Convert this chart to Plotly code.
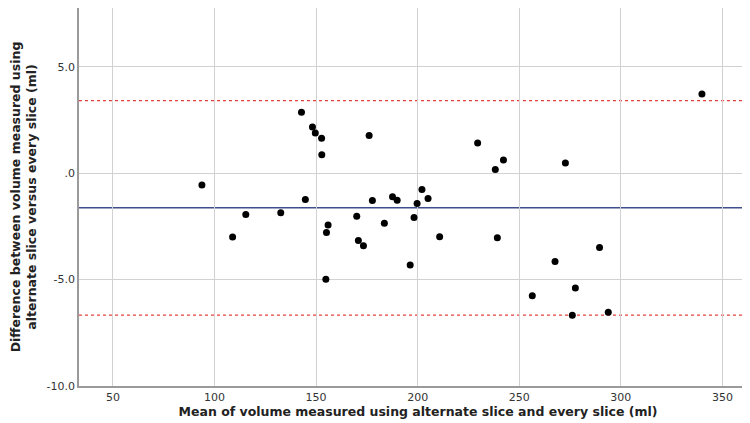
import plotly.graph_objects as go

# Mean of the two volume measurements (ml)
mean_volume = [93.8, 108.9, 115.4, 132.6, 142.8, 144.7, 148.2, 149.6, 152.7, 152.8,
               155.9, 155.1, 154.8, 176.1, 177.7, 170.0, 170.8, 173.3, 183.6, 187.6,
               189.9, 196.3, 198.2, 199.7, 202.1, 205.1, 210.8, 229.5, 238.2, 242.2,
               239.2, 272.7, 267.6, 256.4, 277.6, 289.5, 276.1, 293.8, 339.9]
# Difference between alternate-slice and every-slice volume (ml)
difference = [-0.56, -3.00, -1.94, -1.86, 2.86, -1.24, 2.17, 1.89, 1.64, 0.86,
              -2.44, -2.79, -4.99, 1.77, -1.28, -2.02, -3.16, -3.41, -2.35, -1.11,
              -1.27, -4.31, -2.08, -1.43, -0.77, -1.19, -2.99, 1.42, 0.17, 0.62,
              -3.04, 0.48, -4.15, -5.76, -5.39, -3.49, -6.67, -6.53, 3.72]

mean_difference = -1.63
limits_of_agreement = [3.41, -6.67]

x_ticks = [50, 100, 150, 200, 250, 300, 350]
y_ticks = [5.0, 0.0, -5.0, -10.0]
y_tick_labels = ["5.0", ".0", "-5.0", "-10.0"]

fig = go.Figure()
fig.add_trace(go.Scatter(
    x=mean_volume, y=difference, mode="markers",
    marker=dict(color="black", size=7),
    showlegend=False, hoverinfo="x+y"))

fig.add_hline(y=mean_difference, line=dict(color="#3d4f8c", width=1.5), layer="below")
for lim in limits_of_agreement:
    fig.add_hline(y=lim, line=dict(color="#e8403c", width=1.2, dash="dot"), layer="below")

axis_common = dict(
    showgrid=True, gridcolor="#d2d2d2", gridwidth=1,
    showline=True, linecolor="#9a9a9a", linewidth=1.5,
    zeroline=False, ticks="", tickfont=dict(family="DejaVu Sans", size=11, color="#333333"),
)
fig.update_xaxes(range=[33.3, 367], tickvals=x_ticks,
                 title=dict(text="<b>Mean of volume measured using alternate slice and every slice (ml)</b>",
                            font=dict(family="DejaVu Sans", size=12.5, color="#222222"), standoff=4),
                 **axis_common)
fig.update_yaxes(range=[-10, 7.76], tickvals=y_ticks, ticktext=y_tick_labels,
                 title=dict(text="<b>Difference between volume measured using<br>alternate slice versus every slice (ml)</b>",
                            font=dict(family="DejaVu Sans", size=12.5, color="#222222"), standoff=8),
                 **axis_common)

fig.update_layout(
    width=750, height=423,
    margin=dict(l=71, r=1, t=0, b=45),
    plot_bgcolor="white", paper_bgcolor="white",
)

fig.write_html("out.html")
